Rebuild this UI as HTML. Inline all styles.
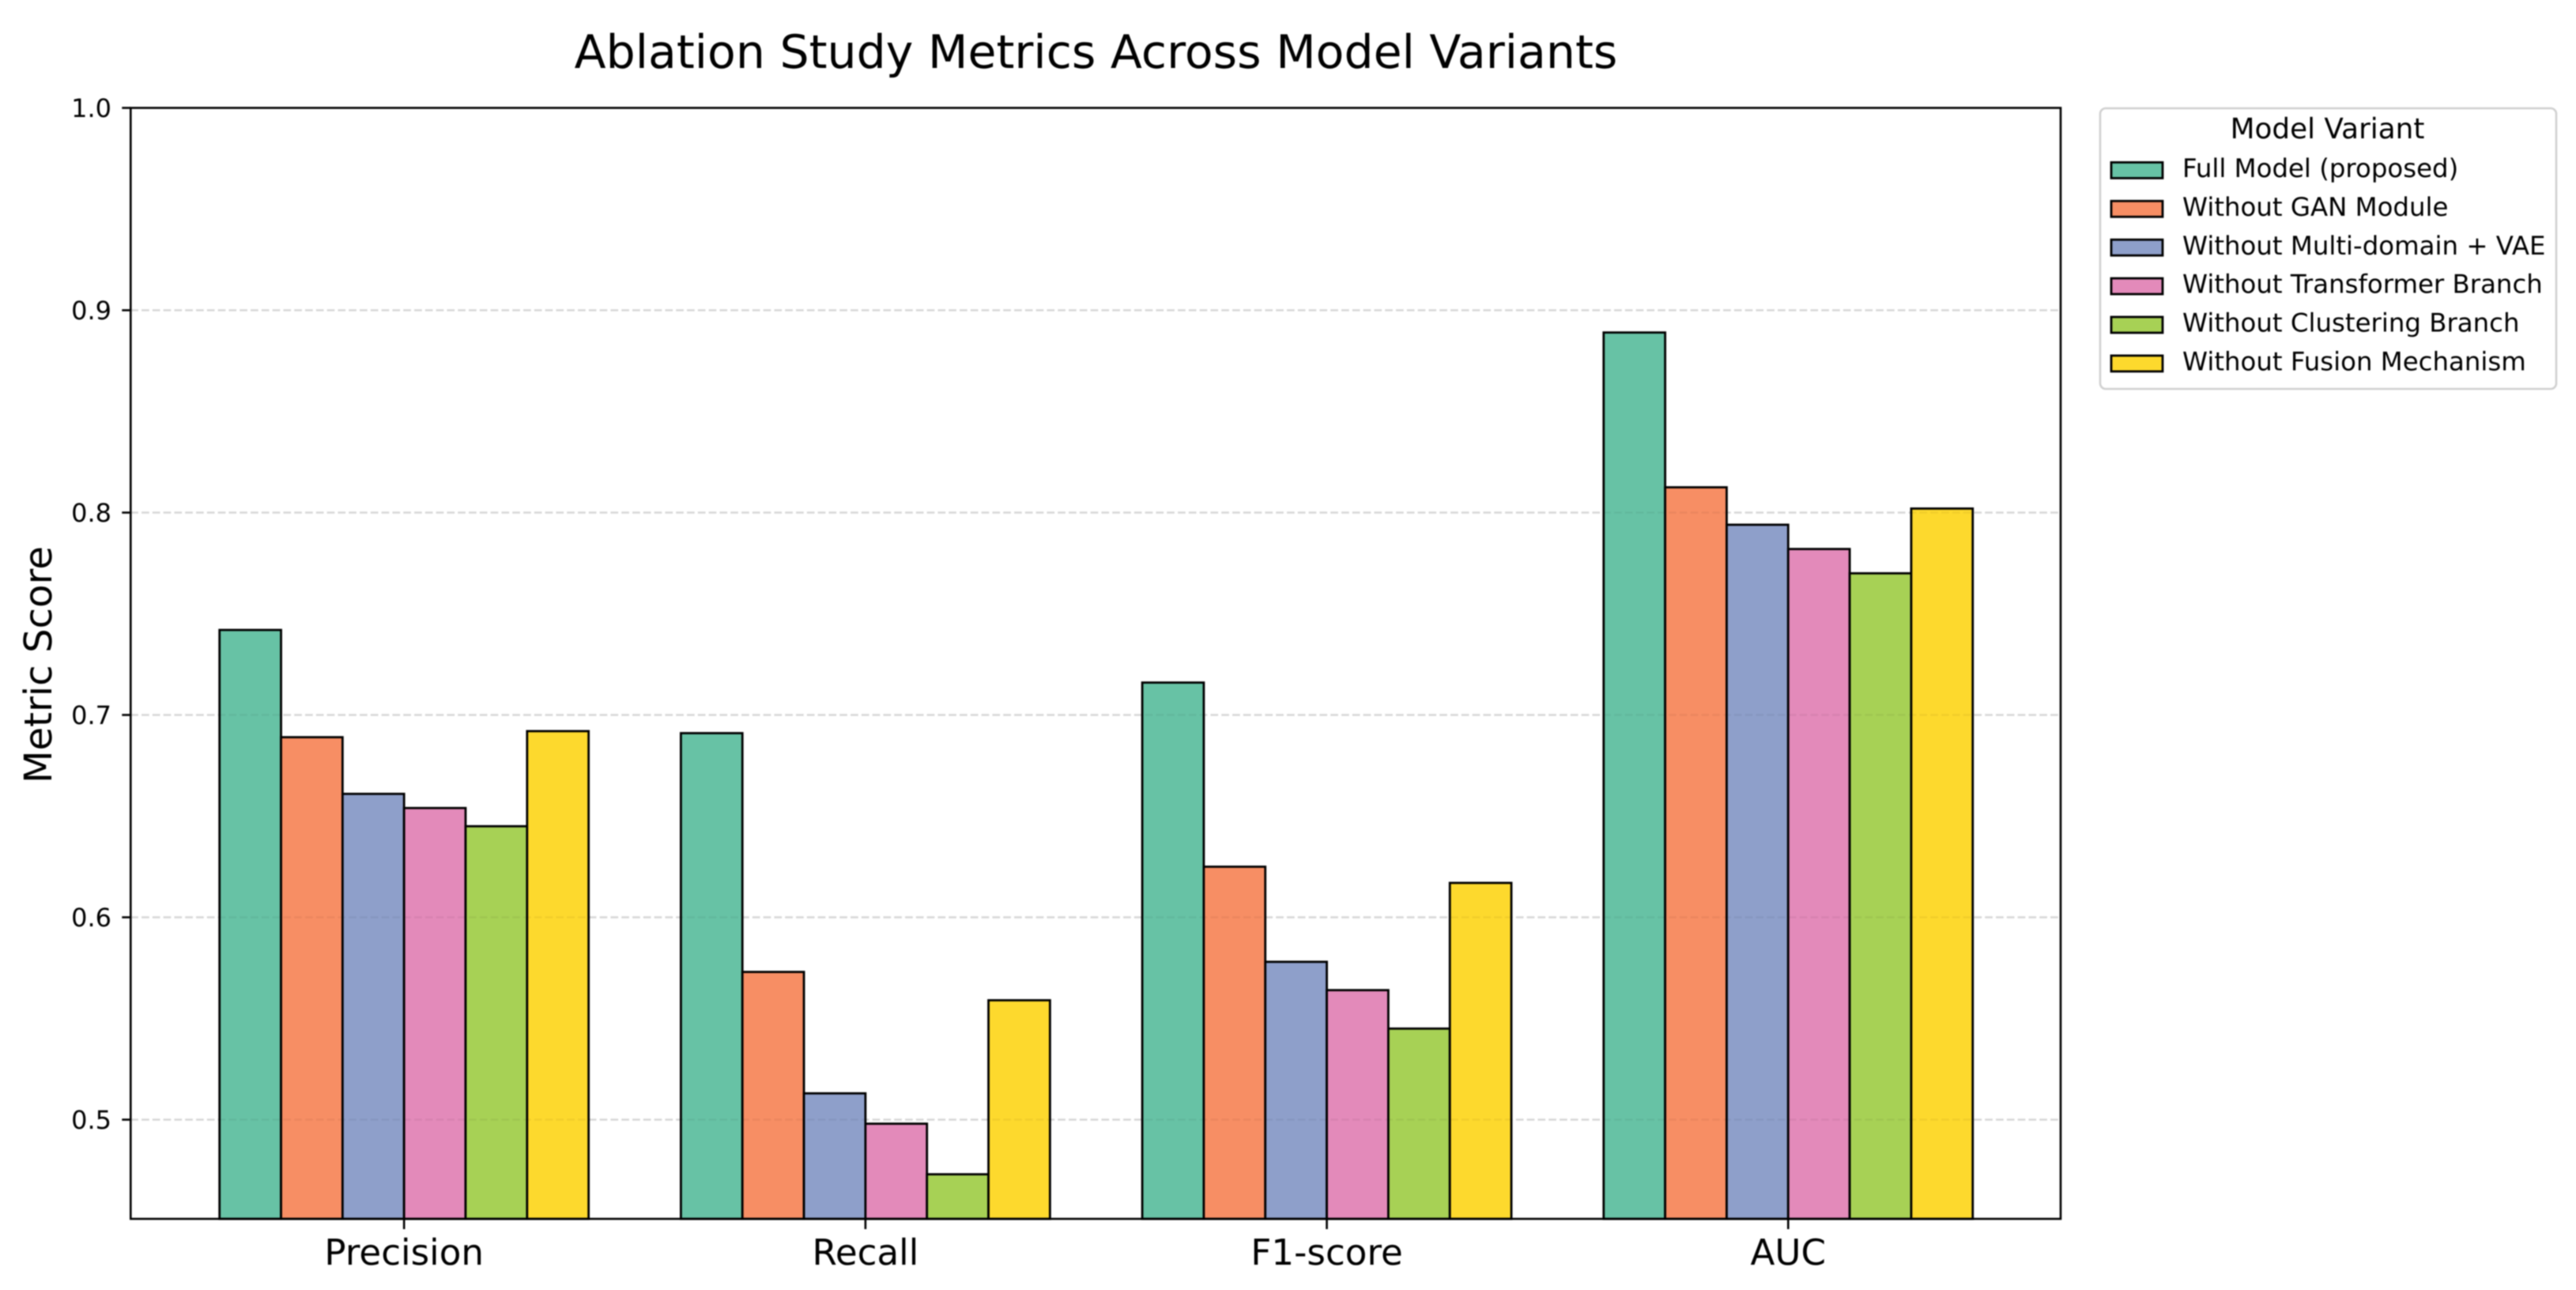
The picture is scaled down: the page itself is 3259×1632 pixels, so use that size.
<!DOCTYPE html>
<html lang="en">
<head>
<meta charset="utf-8">
<title>Ablation Study Metrics Across Model Variants</title>
<style>
html,body{margin:0;padding:0;background:#fff;}
#chart{display:block;width:3259px;height:1632px;filter:blur(0.7px);}
text{font-family:"DejaVu Sans","Liberation Sans",sans-serif;fill:#000;text-rendering:geometricPrecision;}
</style>
</head>
<body>
<svg id="chart" xmlns="http://www.w3.org/2000/svg" width="3259" height="1632" viewBox="0 0 3259 1632">
  <rect x="0" y="0" width="3259" height="1632" fill="#fff"/>
  <text x="1386.5" y="86" font-size="58.5" text-anchor="middle">Ablation Study Metrics Across Model Variants</text>
  <text transform="translate(65,841) rotate(-90)" font-size="48.2" text-anchor="middle">Metric Score</text>
  <g id="grid"></g>
  <g id="bars"></g>
  <g id="grid-overlay"></g>
  <g id="ticks"></g>
  <rect x="165.3" y="136.5" width="2441.7" height="1405.5" fill="none" stroke="#000" stroke-width="2.6"/>
  <g id="legend">
    <rect x="2657" y="137" width="577" height="355" rx="7" ry="7" fill="#fff" stroke="#d0d0d0" stroke-width="2.6"/>
    <text x="2944.5" y="175" font-size="35.8" text-anchor="middle">Model Variant</text>
  </g>
</svg>
<script>
const categories = ["Precision", "Recall", "F1-score", "AUC"];
const seriesNames = ["Full Model (proposed)", "Without GAN Module", "Without Multi-domain + VAE", "Without Transformer Branch", "Without Clustering Branch", "Without Fusion Mechanism"];
const seriesColors = ["#67c2a5", "#f78e64", "#8e9fca", "#e38aba", "#a7d155", "#fdd92d"];
const fullModel = [0.742, 0.691, 0.716, 0.889];
const withoutGan = [0.689, 0.573, 0.625, 0.8125];
const withoutMultiDomain = [0.661, 0.513, 0.578, 0.794];
const withoutTransformer = [0.654, 0.498, 0.564, 0.782];
const withoutClustering = [0.645, 0.473, 0.545, 0.770];
const withoutFusion = [0.692, 0.559, 0.617, 0.802];
const yTicks = [0.5, 0.6, 0.7, 0.8, 0.9, 1.0];
const yTickLabels = ["0.5", "0.6", "0.7", "0.8", "0.9", "1.0"];

const seriesValues = [fullModel, withoutGan, withoutMultiDomain, withoutTransformer, withoutClustering, withoutFusion];
const NS = "http://www.w3.org/2000/svg";
const PLOT_LEFT = 165.3, PLOT_RIGHT = 2607, PLOT_BOTTOM = 1542;
const yScale = v => 136.5 + (1 - v) * 2560;
const xScale = i => 511.2 + 583.7 * i;
const BAR_W = 583.7 * 0.8 / seriesValues.length;

function make(tag, attrs, parent) {
  const el = document.createElementNS(NS, tag);
  Object.keys(attrs).forEach(k => el.setAttribute(k, attrs[k]));
  parent.appendChild(el);
  return el;
}

const gridG = document.getElementById("grid");
const overlayG = document.getElementById("grid-overlay");
const barsG = document.getElementById("bars");
const ticksG = document.getElementById("ticks");
const legendG = document.getElementById("legend");

yTicks.forEach((v, i) => {
  const y = yScale(v);
  if (v < 1) {
    const line = make("line", {x1: PLOT_LEFT, x2: PLOT_RIGHT, y1: y, y2: y, stroke: "#e2e2e2", "stroke-width": 2.6, "stroke-dasharray": "9.6 4.2"}, gridG);
    
    
    const over = make("line", {x1: PLOT_LEFT, x2: PLOT_RIGHT, y1: y, y2: y, stroke: "#000", "stroke-opacity": 0.05, "stroke-width": 2.6, "stroke-dasharray": "9.6 4.2"}, overlayG);
    
    
  }
  const tick = make("line", {x1: PLOT_LEFT - 11, x2: PLOT_LEFT, y1: y, y2: y, stroke: "#000", "stroke-width": 2.6}, ticksG);
  
  
  const label = make("text", {x: 141, y: y + 11.5, "font-size": 32, "text-anchor": "end"}, ticksG);
  
  
  label.textContent = yTickLabels[i];
});

seriesValues.forEach((values, s) => {
  values.forEach((v, c) => {
    const x = xScale(c) + (s - seriesValues.length / 2) * BAR_W;
    const bar = make("rect", {x: x, y: yScale(v), width: BAR_W, height: PLOT_BOTTOM - yScale(v), fill: seriesColors[s], stroke: "#000", "stroke-width": 2.8}, barsG);
    
    
  });
});

categories.forEach((name, c) => {
  const x = xScale(c);
  const tick = make("line", {x1: x, x2: x, y1: PLOT_BOTTOM, y2: PLOT_BOTTOM + 13, stroke: "#000", "stroke-width": 2.6}, ticksG);
  
  
  const label = make("text", {x: x, y: 1600, "font-size": 45.2, "text-anchor": "middle"}, ticksG);
  
  
  label.textContent = name;
});

seriesNames.forEach((name, s) => {
  const top = 205.4 + s * 48.9;
  const swatch = make("rect", {x: 2671, y: top, width: 65, height: 20, fill: seriesColors[s], stroke: "#000", "stroke-width": 2.8}, legendG);
  
  
  const label = make("text", {x: 2761, y: 224 + s * 48.9, "font-size": 32.4}, legendG);
  
  
  label.textContent = name;
});
</script>
</body>
</html>
